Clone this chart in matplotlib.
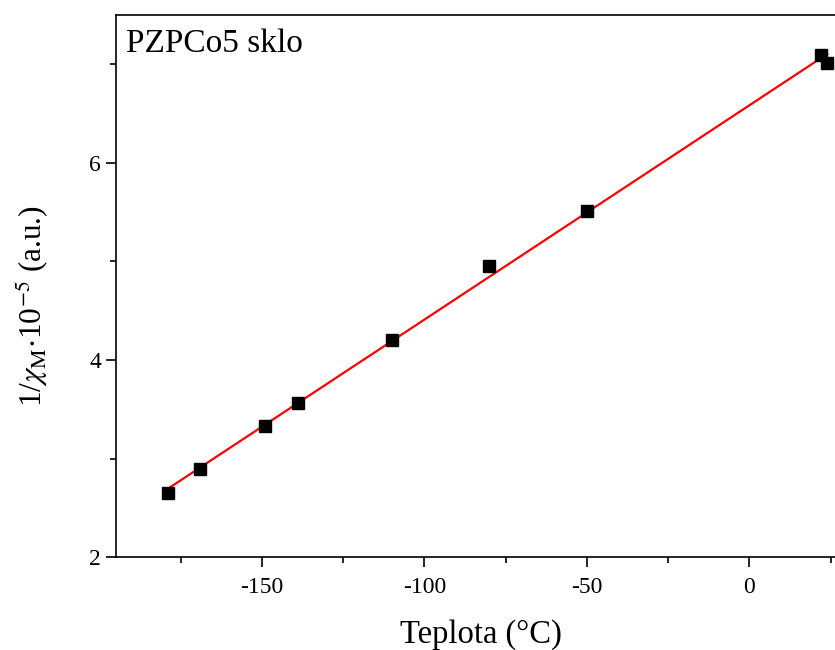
import numpy as np
import matplotlib
matplotlib.use("Agg")
import matplotlib.pyplot as plt
from matplotlib.ticker import MultipleLocator

# Measured data: temperature (°C) and inverse molar susceptibility (a.u., x1e-5)
temperature = [-179, -169, -149, -139, -110, -80, -50, 22, 24]
inv_chi = [2.655, 2.892, 3.331, 3.564, 4.204, 4.950, 5.510, 7.092, 7.008]

x_ticks = [-150, -100, -50, 0]
y_ticks = [2, 4, 6]
sample_label = "PZPCo5 sklo"

plt.rcParams["font.family"] = ["Liberation Serif", "DejaVu Serif"]
plt.rcParams["mathtext.fontset"] = "stix"
plt.rcParams["axes.unicode_minus"] = False

fig = plt.figure(figsize=(8.35, 6.5), dpi=100)
ax = fig.add_axes([0.1386, 0.1426, 0.8756, 0.8348])

t = np.array(temperature, dtype=float)
y = np.array(inv_chi, dtype=float)

# Linear (Curie-Weiss) fit across the measured range
slope, intercept = np.polyfit(t, y, 1)
t_fit = np.array([t.min(), t.max()])
ax.plot(t_fit, slope * t_fit + intercept, color="#ff0000", lw=1.6, zorder=2)

ax.plot(t, y, linestyle="none", marker="s", markersize=8.6,
        color="black", zorder=3)

ax.set_xlim(-195, 30)
ax.set_ylim(2, 7.5)
ax.set_xticks(x_ticks)
ax.set_yticks(y_ticks)
ax.xaxis.set_minor_locator(MultipleLocator(25))
ax.yaxis.set_minor_locator(MultipleLocator(1))

for side in ax.spines.values():
    side.set_linewidth(1.2)
ax.tick_params(which="major", direction="out", length=7.5, width=1.2,
               labelsize=17)
ax.tick_params(which="minor", direction="out", length=4.3, width=1.2)
ax.tick_params(axis="x", which="major", pad=7)
ax.tick_params(axis="y", which="major", pad=3)

ax.set_xlabel("Teplota (°C)", fontsize=23.5, labelpad=15)
ax.set_ylabel(r"1/$\chi_{\mathrm{M}}$$\cdot$10$^{-5}$ (a.u.)", fontsize=22.5)
ax.yaxis.set_label_coords(-0.088, 0.463)

ax.text(0.014, 0.931, sample_label, transform=ax.transAxes,
        fontsize=24, ha="left", va="baseline")

fig.savefig("out.png", dpi=100)
